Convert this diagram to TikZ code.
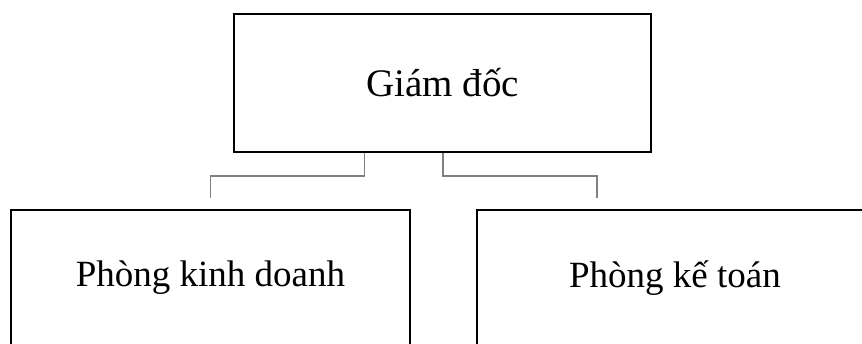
\documentclass[tikz,border=0pt]{standalone}
\usepackage{fontspec}
\setmainfont{Liberation Serif}
\usepackage{tikz}
\usetikzlibrary{positioning}
\definecolor{linegray}{RGB}{128, 128, 128}

\begin{document}
\begin{tikzpicture}[x=1pt, y=-1pt,
    box/.style={draw, line width=1.8pt, minimum width=399pt, minimum height=136pt, inner sep=0pt, font=\fontsize{37}{42}\selectfont},
    link/.style={linegray, line width=1.2pt}]
    \clip (0,0) rectangle (862,343);
    \node[box, minimum width=417pt, minimum height=138pt, font=\fontsize{39}{44}\selectfont] (giamdoc) at (442.5,83) {Giám đốc};
    \node[box] (kinhdoanh) at (210.5,278) {Phòng kinh doanh};
    \node[box, minimum width=396pt] (ketoan) at (675,278) {Phòng kế toán};
    \draw[link] ([xshift=-78pt]giamdoc.south) -- ++(0pt,-23pt) -| ([yshift=11pt]kinhdoanh.north);
    \draw[link] ([xshift=0.5pt]giamdoc.south) -- ++(0pt,-23pt) -| ([xshift=-78pt, yshift=11pt]ketoan.north);
\end{tikzpicture}
\end{document}
